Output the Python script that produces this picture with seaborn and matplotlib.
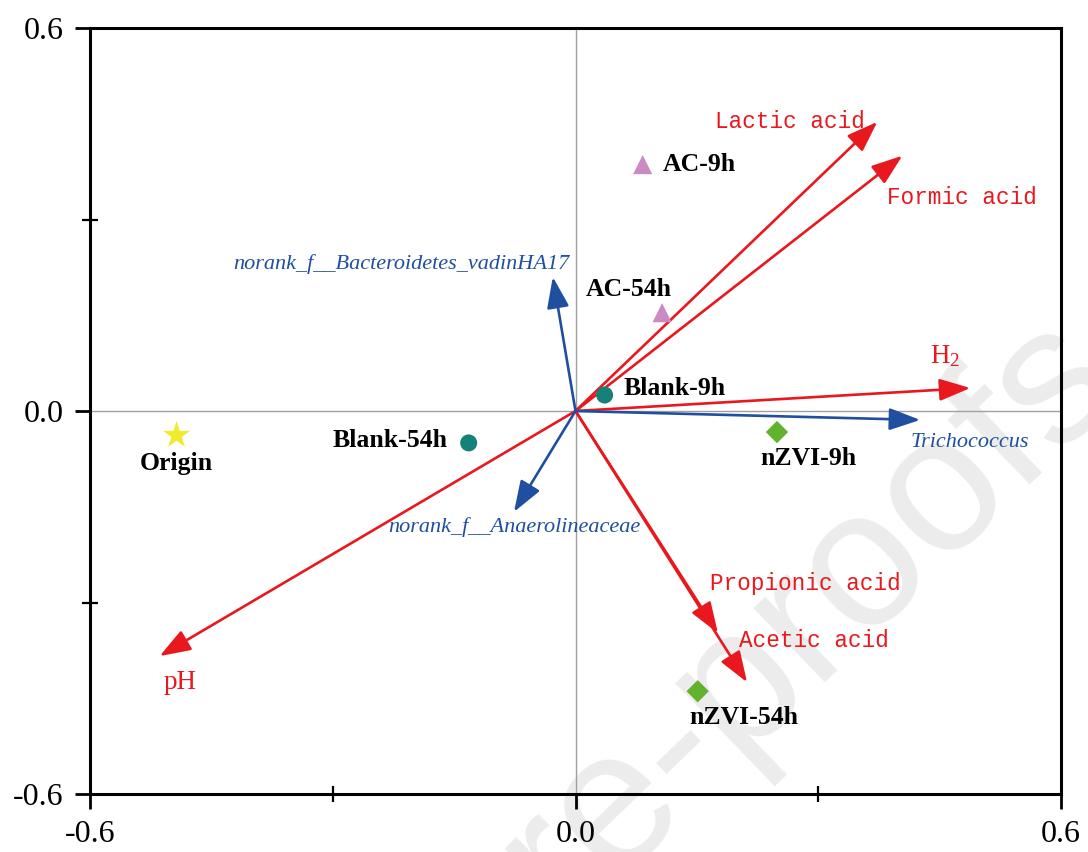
import matplotlib
matplotlib.use("Agg")
import matplotlib.pyplot as plt
import seaborn as sns
import pandas as pd

# ---- sample scores -------------------------------------------------------
samples = ["Origin", "Blank-9h", "Blank-54h", "AC-9h", "AC-54h", "nZVI-9h", "nZVI-54h"]
groups = ["Origin", "Blank", "Blank", "AC", "AC", "nZVI", "nZVI"]
sample_x = [-0.493, 0.036, -0.132, 0.083, 0.107, 0.249, 0.151]
sample_y = [-0.038, 0.025, -0.050, 0.386, 0.154, -0.033, -0.439]

# ---- environmental factor loadings ---------------------------------------
env_vars = ["Lactic acid", "Formic acid", "H$_2$", "Propionic acid", "Acetic acid", "pH"]
env_x = [0.373, 0.404, 0.488, 0.176, 0.212, -0.514]
env_y = [0.453, 0.400, 0.036, -0.348, -0.425, -0.384]

# ---- genus loadings ------------------------------------------------------
taxa = ["norank_f__Bacteroidetes_vadinHA17", "Trichococcus", "norank_f__Anaerolineaceae"]
taxa_x = [-0.028, 0.426, -0.076]
taxa_y = [0.210, -0.014, -0.158]

# ---- axis ticks ----------------------------------------------------------
major_ticks = [-0.6, 0.0, 0.6]
major_labels = ["-0.6", "0.0", "0.6"]
minor_ticks = [-0.3, 0.3]

sns.set_style("white")
plt.rcParams["font.family"] = ["Liberation Serif", "DejaVu Serif"]
plt.rcParams["mathtext.fontset"] = "custom"
plt.rcParams["mathtext.rm"] = "Liberation Serif"
plt.rcParams["mathtext.it"] = "Liberation Serif:italic"

RED = "#e8181e"
BLUE = "#1f4f9e"
palette = {"Origin": "#f2ea2e", "Blank": "#16807a", "AC": "#c98bc2", "nZVI": "#63b22e"}
markers = {"Origin": "*", "Blank": "o", "AC": "^", "nZVI": "D"}
sizes = {"Origin": 420, "Blank": 150, "AC": 190, "nZVI": 130}

fig = plt.figure(figsize=(10.88, 8.52), dpi=100)
ax = fig.add_axes([90 / 1088, 58 / 852, 971 / 1088, 766 / 852])

# faint diagonal watermark behind the plot
ax.text(1.036, 0.541, "Journal Pre-proofs", transform=fig.transFigure,
        rotation=44, rotation_mode="anchor", ha="right", va="baseline",
        fontsize=140, family="Liberation Sans", color="#ececec",
        zorder=0, clip_on=False)

ax.axhline(0, color="#a0a0a0", lw=1.0, zorder=1)
ax.axvline(0, color="#a0a0a0", lw=1.0, zorder=1)

df = pd.DataFrame({"x": sample_x, "y": sample_y, "group": groups, "sample": samples})
for g in ["Origin", "Blank", "AC", "nZVI"]:
    sub = df[df["group"] == g]
    sns.scatterplot(data=sub, x="x", y="y", color=palette[g], marker=markers[g],
                    s=sizes[g], edgecolor="none", ax=ax, zorder=4, legend=False)

# sample labels: (offset in pixels, horizontal alignment)
sample_label_pos = {
    "Origin": ((0, -28), "center"),
    "Blank-9h": ((19, 7), "left"),
    "Blank-54h": ((-21, 2), "right"),
    "AC-9h": ((20, 0), "left"),
    "AC-54h": ((10, 23), "right"),
    "nZVI-9h": ((31, -26), "center"),
    "nZVI-54h": ((46, -26), "center"),
}
for name, x, y in zip(samples, sample_x, sample_y):
    off, ha = sample_label_pos[name]
    ax.annotate(name, xy=(x, y), xytext=off, textcoords="offset pixels",
                ha=ha, va="center", fontsize=18.5, fontweight="bold",
                color="black", zorder=6)

arrow_style = "-|>,head_length=0.95,head_width=0.34"

# environmental arrows
env_label_off = [(-87, 0), (60, -42), (-25, 32), (87, 50), (67, 42), (20, -26)]
for name, x, y, off in zip(env_vars, env_x, env_y, env_label_off):
    ax.annotate("", xy=(x, y), xytext=(0, 0),
                arrowprops=dict(arrowstyle=arrow_style, color=RED, lw=1.9,
                                mutation_scale=20, shrinkA=0, shrinkB=0),
                zorder=3)
    if name in ("H$_2$", "pH"):
        fam, fs = ["Liberation Serif"], 19.5
    else:
        fam, fs = ["Liberation Mono"], 16.3
    ax.annotate(name, xy=(x, y), xytext=off, textcoords="offset pixels",
                ha="center", va="center", fontsize=fs, family=fam,
                color=RED, zorder=6)

# genus arrows
taxa_label = [((17, 13), "right"), ((50, -23), "center"), ((0, -15), "center")]
for name, x, y, (off, ha) in zip(taxa, taxa_x, taxa_y, taxa_label):
    ax.annotate("", xy=(x, y), xytext=(0, 0),
                arrowprops=dict(arrowstyle=arrow_style, color=BLUE, lw=1.9,
                                mutation_scale=20, shrinkA=0, shrinkB=0),
                zorder=3)
    ax.annotate(name, xy=(x, y), xytext=off, textcoords="offset pixels",
                ha=ha, va="center", fontsize=16, style="italic",
                color=BLUE, zorder=6)

ax.set_xlim(-0.6, 0.6)
ax.set_ylim(-0.6, 0.6)
ax.set_xticks(major_ticks)
ax.set_xticklabels(major_labels)
ax.set_yticks(major_ticks)
ax.set_yticklabels(major_labels)
ax.set_xticks(minor_ticks, minor=True)
ax.set_yticks(minor_ticks, minor=True)
ax.tick_params(which="major", direction="out", length=11, width=2,
               labelsize=23, pad=8, color="black", labelcolor="black",
               bottom=True, left=True, top=False, right=False)
ax.tick_params(which="minor", direction="inout", length=11, width=1.6,
               color="black", bottom=True, left=True, top=False, right=False)
ax.set_xlabel("")
ax.set_ylabel("")
for sp in ax.spines.values():
    sp.set_visible(True)
    sp.set_color("black")
    sp.set_linewidth(2.2)
    sp.set_zorder(5)

fig.savefig("out.png", dpi=100)
